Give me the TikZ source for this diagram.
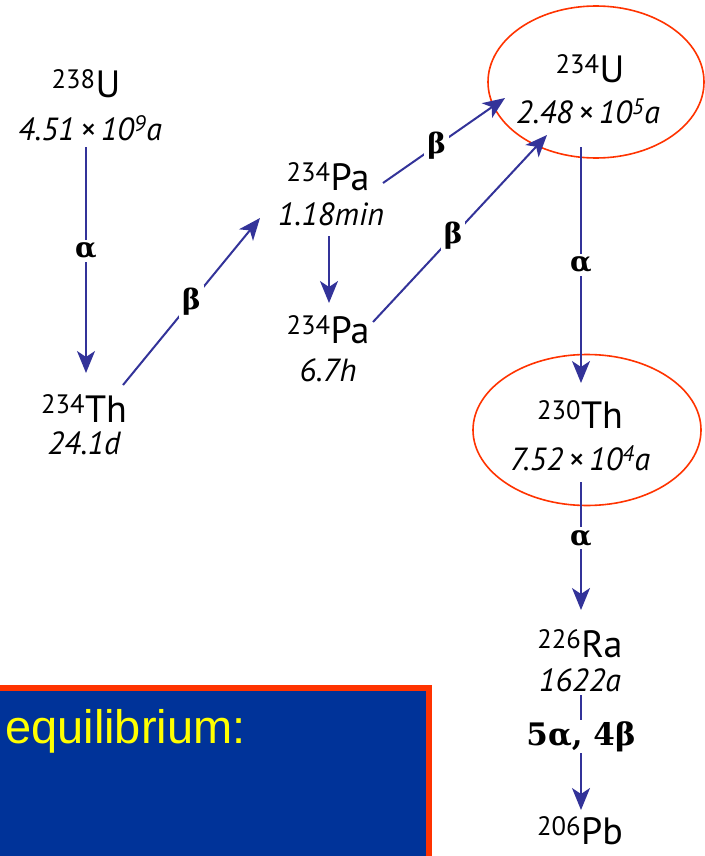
\documentclass[tikz,border=0pt]{standalone}
\usepackage{fontspec}
\setmainfont{PT Sans}
\newfontfamily\greekfont{DejaVu Serif}
\newfontfamily\boxfont{Liberation Sans}
\usetikzlibrary{arrows.meta,shapes.geometric}

\definecolor{decayblue}{HTML}{333399}
\definecolor{ringred}{HTML}{FF3300}
\definecolor{boxblue}{HTML}{003399}
\definecolor{boxtext}{HTML}{FFFF00}

\begin{document}
\begin{tikzpicture}[
    x=1pt, y=-1pt,
    nuclide/.style={font=\fontsize{38}{40}\selectfont, inner sep=0pt},
    halflife/.style={font=\fontsize{32}{34}\selectfont\itshape, inner sep=0pt},
    decay/.style={draw=decayblue, line width=2pt, -{Stealth[length=22pt, width=18pt, inset=6pt]}},
    mode/.style={font=\greekfont\bfseries\fontsize{28}{30}\selectfont, fill=white, inner sep=3pt},
    ring/.style={draw=ringred, line width=1.6pt, ellipse, inner sep=0pt}
]
\useasboundingbox (0,0) rectangle (704,856);

% rings round the pair in equilibrium
\node[ring, minimum width=216pt, minimum height=152pt] (u234ring) at (596,82) {};
\node[ring, minimum width=228pt, minimum height=151pt] (th230ring) at (587,430) {};

% nuclides
\node[nuclide] (u238) at (86,84) {\textsuperscript{238}U};
\node[halflife] (u238hl) at (90,128) {4.51\,×\,10\textsuperscript{9}a};
\node[nuclide] (th234) at (84,409) {\textsuperscript{234}Th};
\node[halflife] (th234hl) at (84,443) {24.1d};
\node[nuclide] (pa234m) at (328,177) {\textsuperscript{234}Pa};
\node[halflife] (pa234mhl) at (331,214) {1.18min};
\node[nuclide] (pa234) at (328,330) {\textsuperscript{234}Pa};
\node[halflife] (pa234hl) at (328,370) {6.7h};
\node[nuclide] (u234) at (590,69) {\textsuperscript{234}U};
\node[halflife] (u234hl) at (588,111) {2.48\,×\,10\textsuperscript{5}a};
\node[nuclide] (th230) at (580,415) {\textsuperscript{230}Th};
\node[halflife] (th230hl) at (580,458) {7.52\,×\,10\textsuperscript{4}a};
\node[nuclide] (ra226) at (580,644) {\textsuperscript{226}Ra};
\node[halflife] (ra226hl) at (580,680) {1622a};
\node[nuclide] (pb206) at (580,831) {\textsuperscript{206}Pb};

% decays
\draw[decay] ([shift={(-4,19)}]u238hl.center) -- ([shift={(2,-36)}]th234.center)
    node[mode, pos=0.46] {α};
\draw[decay] ([shift={(39,-24)}]th234.center) -- ([shift={(-71,4)}]pa234mhl.center)
    node[mode, pos=0.5] {β};
\draw[decay] ([shift={(55,6)}]pa234m.center) -- ([shift={(-83,-13)}]u234hl.center)
    node[mode, pos=0.44] {β};
\draw[decay] ([shift={(-2,22)}]pa234mhl.center) -- ([shift={(1,-27)}]pa234.center);
\draw[decay] ([shift={(45,-8)}]pa234.center) -- ([shift={(-41,24)}]u234hl.center)
    node[mode, pos=0.46] {β};
\draw[decay] ([shift={(-7,36)}]u234hl.center) -- ([shift={(1,-32)}]th230.center)
    node[mode, pos=0.5] {α};
\draw[decay] ([shift={(1,24)}]th230hl.center) -- ([shift={(1,-34)}]ra226.center)
    node[mode, pos=0.44] {α};
\draw[decay] ([shift={(1,15)}]ra226hl.center) -- ([shift={(1,-21)}]pb206.center)
    node[mode, pos=0.36, font=\greekfont\bfseries\fontsize{31}{33}\selectfont, inner sep=1pt] {5α, 4β};

% note box
\node[draw=ringred, line width=6pt, fill=boxblue, minimum width=450pt, minimum height=190pt, inner sep=0pt] (note) at (204,783) {};
\node[anchor=base west, text=boxtext, font=\boxfont\fontsize{47}{49}\selectfont, inner sep=0pt] (eqtext) at (5,743) {equilibrium:};
\end{tikzpicture}
\end{document}
